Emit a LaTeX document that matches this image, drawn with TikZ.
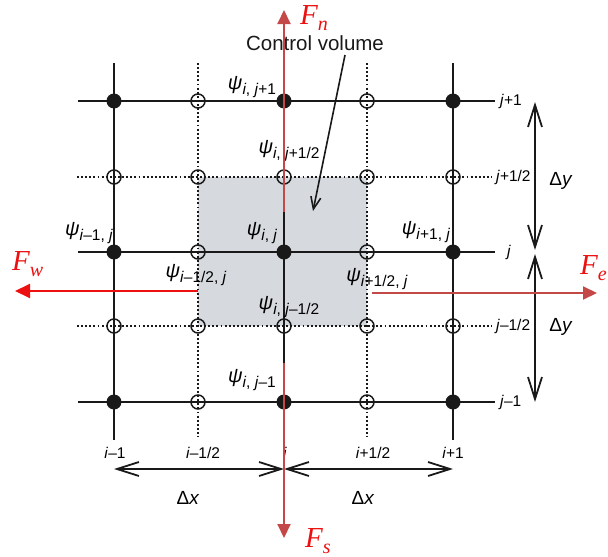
\documentclass[tikz,border=0pt]{standalone}
\usepackage{fontspec}
\setmainfont{Liberation Sans}
\newfontfamily\fserif{Liberation Serif}
\usetikzlibrary{arrows.meta}
\definecolor{boxgray}{RGB}{214,217,221}
\definecolor{fluxred}{RGB}{196,72,72}
\definecolor{brightred}{RGB}{236,16,16}
\definecolor{ink}{RGB}{25,25,25}
\newcommand{\psil}[1]{\textit{ψ}\raisebox{-5pt}{\fontsize{15.5}{15.5}\selectfont #1}}
\newcommand{\flab}[1]{{\fserif\itshape F\raisebox{-6pt}{\fontsize{20}{20}\selectfont #1}}}
\tikzset{
  gridline/.style={ink, line width=2.3pt},
  dotline/.style={ink, line width=2.1pt, dash pattern=on 1.9pt off 2.2pt},
  opendot/.style={circle, draw=ink, line width=1.5pt, minimum size=14pt, inner sep=0pt},
  filldot/.style={circle, fill=ink, minimum size=15pt, inner sep=0pt},
  psilabel/.style={font=\fontsize{20}{20}\selectfont, inner sep=0pt},
  idxlabel/.style={font=\fontsize{15.5}{15.5}\selectfont, inner sep=0pt},
  dlabel/.style={font=\fontsize{19}{19}\selectfont, inner sep=0pt},
  dimarrow/.style={ink, line width=1.8pt, {Straight Barb[length=22pt,width=14pt,line width=1.8pt]}-{Straight Barb[length=22pt,width=14pt,line width=1.8pt]}},
  flux/.style={fluxred, line width=2pt, -{Triangle[length=14pt,width=13pt]}},
  fluxw/.style={brightred, line width=2pt, -{Triangle[length=15pt,width=14pt]}},
  flabel/.style={text=brightred, font=\fontsize{29}{29}\selectfont, inner sep=0pt},
}
\begin{document}
\begin{tikzpicture}[x=1pt,y=-1pt]
\useasboundingbox (0,0) rectangle (608,557);
% control volume
\fill[boxgray] (198,177) rectangle (367,326);
% grid lines
\foreach \x in {114,284,453} \draw[gridline] (\x,63) -- (\x,440);
\foreach \y in {101,252,402} \draw[gridline] (78,\y) -- (495,\y);
\foreach \x in {198,367} \draw[dotline] (\x,63) -- (\x,437);
\foreach \y in {177,326} \draw[dotline] (77,\y) -- (492,\y);
% points
\foreach \x/\i in {114/a,284/b,453/c} {
  \foreach \y/\j in {101/a,252/b,402/c} {
    \node[filldot] (f\i\j) at (\x,\y) {};
  }
}
\foreach \x/\i in {198/a,367/b} {
  \foreach \y/\j in {101/a,177/b,252/c,326/d,402/e} {
    \node[opendot] (h\i\j) at (\x,\y) {};
  }
}
\foreach \x/\i in {114/a,284/b,453/c} {
  \foreach \y/\j in {177/a,326/b} {
    \node[opendot] (v\i\j) at (\x,\y) {};
  }
}
% psi labels
\node[psilabel] (p1) at (252,87) {\psil{\textit{i}, \textit{j}+1}};
\node[psilabel] (p2) at (289,151) {\psil{\textit{i}, \textit{j}+1/2}};
\node[psilabel] (p3) at (89,233) {\psil{\textit{i}–1, \textit{j}}};
\node[psilabel] (p4) at (262,233) {\psil{\textit{i}, \textit{j}}};
\node[psilabel] (p5) at (426,232) {\psil{\textit{i}+1, \textit{j}}};
\node[psilabel] (p6) at (196,275) {\psil{\textit{i}–1/2, \textit{j}}};
\node[psilabel] (p7) at (377,279) {\psil{\textit{i}+1/2, \textit{j}}};
\node[psilabel] (p8) at (289,307) {\psil{\textit{i}, \textit{j}–1/2}};
\node[psilabel] (p9) at (252,380) {\psil{\textit{i}, \textit{j}–1}};
% index labels
\node[idxlabel] (ia) at (115,453) {\textit{i}–1};
\node[idxlabel] (ib) at (203,453) {\textit{i}–1/2};
\node[idxlabel] (ic) at (285,453) {\textit{i}};
\node[idxlabel] (id) at (373,453) {\textit{i}+1/2};
\node[idxlabel] (ie) at (453,453) {\textit{i}+1};
\node[idxlabel, anchor=west] (ja) at (500,101) {\textit{j}+1};
\node[idxlabel, anchor=west] (jb) at (496,177) {\textit{j}+1/2};
\node[idxlabel, anchor=west] (jc) at (507,252) {\textit{j}};
\node[idxlabel, anchor=west] (jd) at (496,326) {\textit{j}–1/2};
\node[idxlabel, anchor=west] (je) at (500,402) {\textit{j}–1};
% dimension arrows
\coordinate (dx0) at (114,469);
\coordinate (dx1) at (284,469);
\coordinate (dx2) at (453,469);
\draw[dimarrow] (dx0) -- (dx1);
\draw[dimarrow] (dx1) -- (dx2);
\node[dlabel] (lx1) at (188,498) {Δ\textit{x}};
\node[dlabel] (lx2) at (363,498) {Δ\textit{x}};
\coordinate (dy0) at (535,102);
\coordinate (dy1) at (535,250);
\coordinate (dy2) at (535,254);
\coordinate (dy3) at (535,402);
\draw[dimarrow] (dy0) -- (dy1);
\draw[dimarrow] (dy2) -- (dy3);
\node[dlabel] (ly1) at (561,181) {Δ\textit{y}};
\node[dlabel] (ly2) at (561,327) {Δ\textit{y}};
% control volume label
\node[font=\fontsize{20.5}{20.5}\selectfont, text=ink, inner sep=0pt] (cv) at (315,43) {Control volume};
\coordinate (cvtip) at (313,211);
\draw[ink, line width=1.6pt, -{Straight Barb[length=12pt,width=10pt,line width=1.6pt]}] (345,55) -- (cvtip);
% fluxes
\coordinate (n0) at (284,212);
\coordinate (n1) at (284,10);
\coordinate (s0) at (284,363);
\coordinate (s1) at (284,538);
\coordinate (w0) at (198,291);
\coordinate (w1) at (15,291);
\coordinate (e0) at (372,293);
\coordinate (e1) at (597,293);
\draw[flux] (n0) -- (n1);
\draw[flux] (s0) -- (s1);
\draw[fluxw] (w0) -- (w1);
\draw[flux] (e0) -- (e1);
\node[flabel, anchor=west] (Fn) at (300,18) {\flab{n}};
\node[flabel, anchor=west] (Fs) at (305,541) {\flab{s}};
\node[flabel, anchor=west] (Fw) at (12,264) {\flab{w}};
\node[flabel, anchor=east] (Fe) at (607,268) {\flab{e}};
\end{tikzpicture}
\end{document}
